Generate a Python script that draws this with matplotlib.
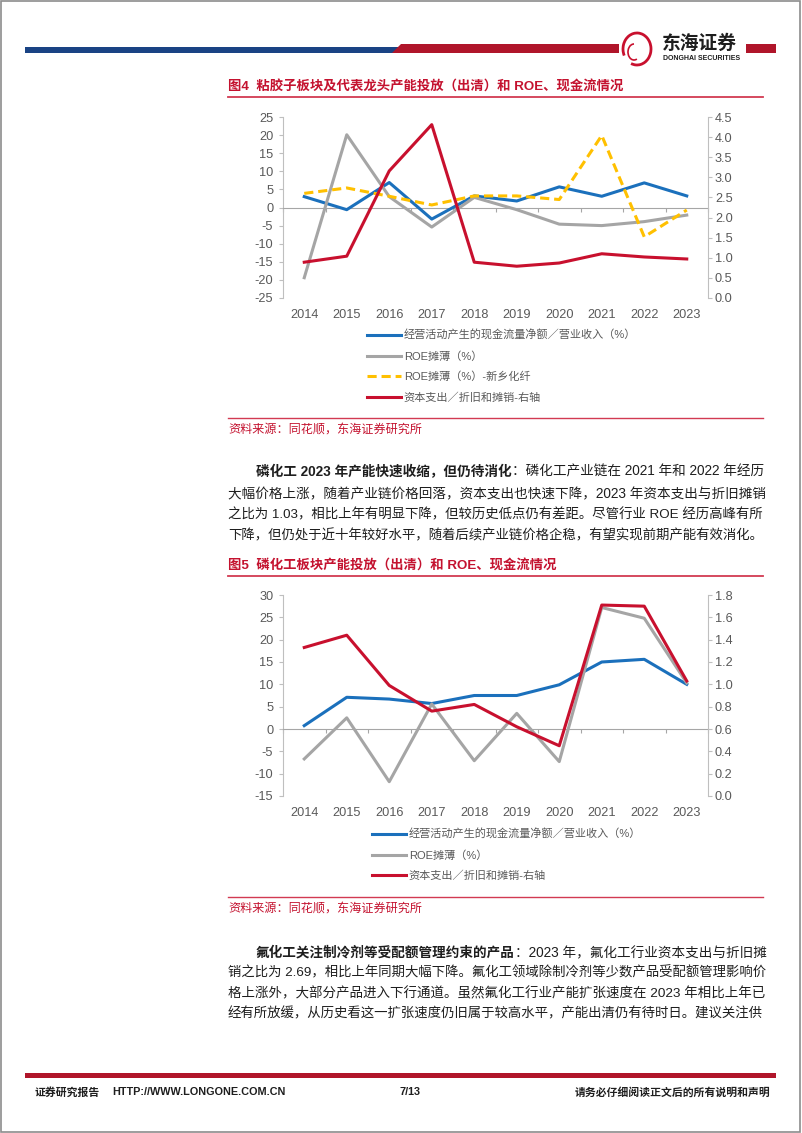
import numpy as np
import matplotlib
matplotlib.use('Agg')
import matplotlib.pyplot as plt
from matplotlib.lines import Line2D
from matplotlib.patches import Rectangle, Polygon, Arc

FONT = ['Liberation Sans', 'Noto Sans CJK SC']
plt.rcParams['font.family'] = FONT
plt.rcParams['axes.unicode_minus'] = False

W, H = 802, 1133

# --- data ---
years = ['2014', '2015', '2016', '2017', '2018', '2019', '2020', '2021', '2022', '2023']

# 图4 粘胶子板块
viscose_cash = [3.0, -0.6, 6.9, -3.2, 3.2, 1.8, 5.7, 3.1, 6.8, 3.2]
viscose_roe = [-19.4, 20.1, 3.0, -5.4, 2.8, -0.6, -4.6, -5.0, -3.9, -2.1]
xinxiang_roe = [3.9, 5.4, 3.1, 0.7, 3.2, 3.2, 2.2, 19.9, -8.1, -0.7]
viscose_capex = [0.89, 1.04, 3.16, 4.31, 0.89, 0.79, 0.87, 1.10, 1.02, 0.97]

# 图5 磷化工板块
phos_cash = [0.75, 7.1, 6.7, 5.7, 7.5, 7.5, 9.9, 15.0, 15.6, 10.0]
phos_roe = [-6.7, 2.5, -11.8, 5.6, -7.1, 3.5, -7.3, 27.2, 24.8, 10.3]
phos_capex = [1.33, 1.44, 0.99, 0.76, 0.82, 0.62, 0.45, 1.71, 1.70, 1.03]

label_cash = '经营活动产生的现金流量净额／营业收入（%）'
label_roe = 'ROE摊薄（%）'
label_xx = 'ROE摊薄（%）-新乡化纤'
label_capex = '资本支出／折旧和摊销-右轴'

BLUE = '#1B70BC'
GRAY = '#A5A5A5'
YELLOW = '#FFC000'
RED = '#C8102E'
TITLE_RED = '#C4122F'
AXIS = '#BFBFBF'
TXT = '#595959'
BODY = '#1E1E1E'

fig = plt.figure(figsize=(W / 100, H / 100), dpi=100)
renderer = fig.canvas.get_renderer()


def fx(x):
    return x / W


def fy(y):
    return 1 - y / H


def hline(x0, x1, y, color, lw):
    fig.add_artist(Line2D([fx(x0), fx(x1)], [fy(y), fy(y)], color=color, lw=lw,
                          transform=fig.transFigure))


def draw_chart(top, bottom, left_series, capex, ylim, yticks, rlim, rticks):
    x0, x1 = 283, 708
    ax = fig.add_axes([fx(x0), fy(bottom), (x1 - x0) / W, (bottom - top) / H])
    axr = ax.twinx()
    x = np.arange(len(years))
    handles = []
    for vals, color, ls in left_series:
        h, = ax.plot(x, vals, color=color, lw=2.2, ls=ls, zorder=3)
        handles.append(h)
    hr, = axr.plot(x, capex, color=RED, lw=2.2, zorder=3)
    handles.append(hr)

    ax.set_xlim(-0.5, len(years) - 0.5)
    ax.set_ylim(*ylim)
    ax.set_yticks(yticks)
    axr.set_ylim(*rlim)
    axr.set_yticks(rticks)
    axr.yaxis.set_major_formatter('{x:.1f}')

    ax.spines['top'].set_visible(False)
    ax.spines['right'].set_visible(False)
    ax.spines['left'].set_color(AXIS)
    ax.spines['bottom'].set_position(('data', 0))
    ax.spines['bottom'].set_color('#A6A6A6')
    for s in ('top', 'left', 'bottom'):
        axr.spines[s].set_visible(False)
    axr.spines['right'].set_color(AXIS)

    ax.set_xticks(np.arange(-0.5, len(years), 1))
    ax.set_xticklabels([])
    ax.tick_params(axis='x', length=3, color='#A6A6A6', direction='out')
    ax.tick_params(axis='y', length=3, color=AXIS, labelcolor=TXT, labelsize=9.2, pad=4)
    axr.tick_params(axis='y', length=3, color=AXIS, labelcolor=TXT, labelsize=9.2, pad=2)

    sec = ax.secondary_xaxis('bottom')
    sec.set_xticks(x, labels=years)
    sec.tick_params(length=0, pad=8, labelsize=9.2, labelcolor=TXT)
    sec.spines['bottom'].set_visible(False)
    return handles


def legend(handles, labels, x, y):
    fig.legend(handles, labels, loc='upper left', bbox_to_anchor=(fx(x), fy(y)),
               frameon=False, fontsize=8.0, handlelength=3.1, handletextpad=0.2,
               labelspacing=0.9, borderpad=0, borderaxespad=0, labelcolor=TXT)


def para_line(x, y, text, bold_part=None, right=765, fs=9.8):
    # 两端对齐：按行宽微调字号
    kw = dict(fontsize=fs, color=BODY, va='center', ha='left')
    parts = []
    if bold_part:
        parts.append(fig.text(fx(x), fy(y), bold_part, fontweight='bold', **kw))
    parts.append(fig.text(fx(x), fy(y), text, **kw))

    def layout():
        cur = x
        for t in parts:
            t.set_x(fx(cur))
            cur = t.get_window_extent(renderer=renderer).x1
        return cur

    end = layout()
    scale = (right - x) / (end - x)
    for t in parts:
        t.set_fontsize(fs * scale)
    layout()


# --- page frame and header ---
fig.add_artist(Rectangle((0.001, 0.001), 0.996, 0.998, fill=False, ec='#8C8C8C', lw=1.2,
                         transform=fig.transFigure))
fig.add_artist(Rectangle((fx(25), fy(53)), (398 - 25) / W, 6 / H, fc='#1A4384', ec='none',
                         transform=fig.transFigure))
fig.add_artist(Polygon([(fx(392), fy(53)), (fx(401), fy(44)), (fx(619), fy(44)), (fx(619), fy(53))],
                       closed=True, fc='#B0152A', ec='none', transform=fig.transFigure))
fig.add_artist(Rectangle((fx(746), fy(53)), 30 / W, 9 / H, fc='#B0152A', ec='none',
                         transform=fig.transFigure))
fig.add_artist(Arc((fx(637), fy(49)), 28 / W, 32 / H, theta1=-120, theta2=200, color='#C8102E',
                   lw=2.0, transform=fig.transFigure))
fig.add_artist(Arc((fx(634), fy(52)), 12 / W, 16 / H, theta1=90, theta2=300, color='#C8102E',
                   lw=1.2, transform=fig.transFigure))
fig.text(fx(662), fy(44), '东海证券', fontsize=13.5, fontweight='bold', color='#1E1E1E',
         va='center', ha='left')
fig.text(fx(663), fy(58), 'DONGHAI SECURITIES', fontsize=5.0, fontweight='bold', color='#1E1E1E',
         va='center', ha='left')

# --- 图4 ---
fig.text(fx(228), fy(87), '图4  粘胶子板块及代表龙头产能投放（出清）和 ROE、现金流情况', fontsize=9.6,
         fontweight='bold', color=TITLE_RED, va='center', ha='left')
hline(228, 763, 97, '#D23A52', 1.3)

h1 = draw_chart(117, 298,
                [(viscose_cash, BLUE, '-'), (viscose_roe, GRAY, '-'), (xinxiang_roe, YELLOW, (0, (3, 1.6)))],
                viscose_capex, (-25, 25), np.arange(-25, 26, 5), (0, 4.5), np.arange(0, 4.6, 0.5))
legend(h1, [label_cash, label_roe, label_xx, label_capex], 367, 330)

hline(228, 763, 418, '#D23A52', 1.0)
fig.text(fx(228), fy(430), '资料来源：同花顺，东海证券研究所', fontsize=8.7, color=TITLE_RED,
         va='center', ha='left')

# --- 正文 1 ---
para_line(256, 472, '：磷化工产业链在 2021 年和 2022 年经历', '磷化工 2023 年产能快速收缩，但仍待消化')
para_line(228, 494, '大幅价格上涨，随着产业链价格回落，资本支出也快速下降，2023 年资本支出与折旧摊销')
para_line(228, 515, '之比为 1.03，相比上年有明显下降，但较历史低点仍有差距。尽管行业 ROE 经历高峰有所')
para_line(228, 536, '下降，但仍处于近十年较好水平，随着后续产业链价格企稳，有望实现前期产能有效消化。')

# --- 图5 ---
fig.text(fx(228), fy(565), '图5  磷化工板块产能投放（出清）和 ROE、现金流情况', fontsize=9.6,
         fontweight='bold', color=TITLE_RED, va='center', ha='left')
hline(228, 763, 576, '#D23A52', 1.3)

h2 = draw_chart(595, 796,
                [(phos_cash, BLUE, '-'), (phos_roe, GRAY, '-')],
                phos_capex, (-15, 30), np.arange(-15, 31, 5), (0, 1.8), np.arange(0, 1.81, 0.2))
legend(h2, [label_cash, label_roe, label_capex], 372, 829)

hline(228, 763, 897, '#D23A52', 1.0)
fig.text(fx(228), fy(909), '资料来源：同花顺，东海证券研究所', fontsize=8.7, color=TITLE_RED,
         va='center', ha='left')

# --- 正文 2 ---
para_line(256, 953, '：2023 年，氟化工行业资本支出与折旧摊', '氟化工关注制冷剂等受配额管理约束的产品')
para_line(228, 973, '销之比为 2.69，相比上年同期大幅下降。氟化工领域除制冷剂等少数产品受配额管理影响价')
para_line(228, 994, '格上涨外，大部分产品进入下行通道。虽然氟化工行业产能扩张速度在 2023 年相比上年已')
para_line(228, 1014, '经有所放缓，从历史看这一扩张速度仍旧属于较高水平，产能出清仍有待时日。建议关注供')

# --- footer ---
fig.add_artist(Rectangle((fx(25), fy(1078)), (776 - 25) / W, 5 / H, fc='#B0152A', ec='none',
                         transform=fig.transFigure))
foot = dict(fontsize=7.8, fontweight='bold', color='#1E1E1E', va='center')
fig.text(fx(35), fy(1092), '证券研究报告', ha='left', **foot)
fig.text(fx(112), fy(1092), 'HTTP://WWW.LONGONE.COM.CN', ha='left', **foot)
fig.text(fx(400), fy(1092), '7/13', ha='left', **foot)
fig.text(fx(770), fy(1092), '请务必仔细阅读正文后的所有说明和声明', ha='right', **foot)

fig.savefig('out.png', dpi=100)
